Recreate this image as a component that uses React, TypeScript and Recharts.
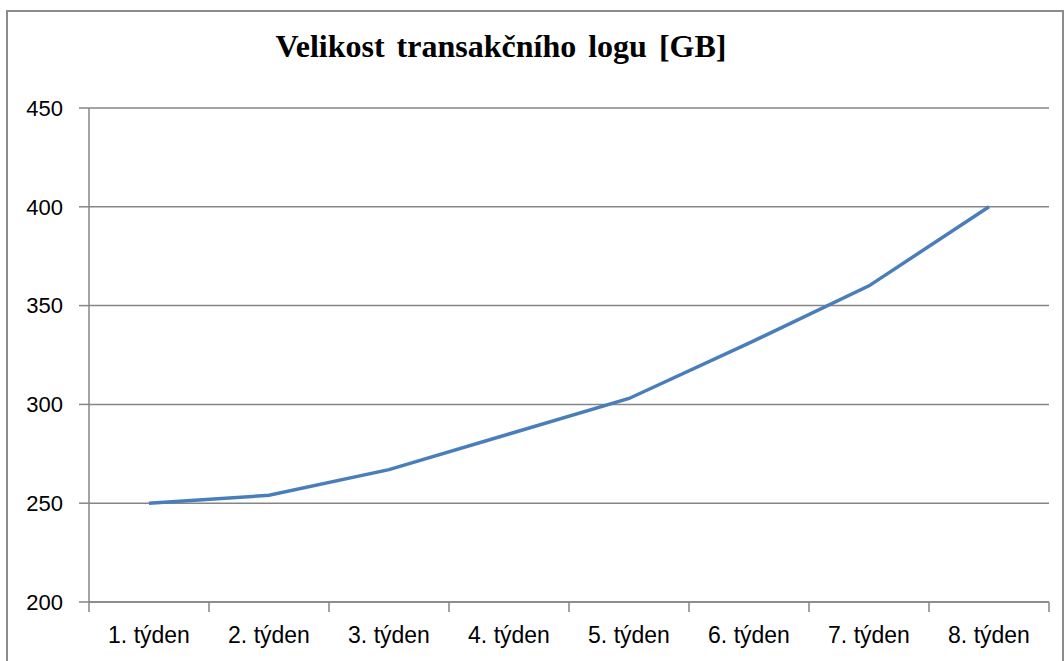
import { LineChart, Line, XAxis, YAxis, CartesianGrid } from "recharts";

const weeks = ["1. týden", "2. týden", "3. týden", "4. týden", "5. týden", "6. týden", "7. týden", "8. týden"];
const logSize = [250, 254, 267, 285, 303, 331, 360, 400];
const yTicks = [200, 250, 300, 350, 400, 450];

// ticks at band edges (integers) and band centres (halves, for labels)
const xTicks = Array.from({ length: weeks.length * 2 + 1 }, (_, i) => i / 2);

const data = weeks.map((w, i) => ({ week: w, pos: i + 0.5, size: logSize[i] }));

const axisGray = "#868686";
const tickFont = "'Liberation Sans', Arial, sans-serif";

function WeekTick(props: any) {
  const { x, y, payload } = props;
  const v = payload.value as number;
  if (Number.isInteger(v)) {
    return <line x1={x} y1={y} x2={x} y2={y + 10} stroke={axisGray} strokeWidth={1.5} />;
  }
  return (
    <text x={x} y={y + 41} textAnchor="middle" fontSize={23} fontFamily={tickFont} fill="#000">
      {weeks[Math.floor(v)]}
    </text>
  );
}

export default function App() {
  return (
    <div style={{ position: "absolute", left: 0, top: 0, width: 1064, height: 661, background: "#fff", overflow: "hidden" }}>
      <div
        style={{
          position: "absolute",
          left: 6,
          top: 10,
          width: 1054,
          height: 700,
          border: "2px solid #8c8c8c",
        }}
      />
      <div
        style={{
          position: "absolute",
          left: 0,
          width: 1002,
          top: 26,
          textAlign: "center",
          fontFamily: "'Liberation Serif', 'Times New Roman', serif",
          fontWeight: "bold",
          fontSize: 32,
          wordSpacing: 4,
          color: "#000",
          lineHeight: "40px",
        }}
      >
        Velikost transakčního logu [GB]
      </div>
      <div style={{ position: "absolute", left: 0, top: 0 }}>
        <LineChart width={1064} height={661} data={data} margin={{ top: 108, right: 15, bottom: 19, left: 29 }}>
          <CartesianGrid vertical={false} stroke={axisGray} strokeWidth={1.5} />
          <XAxis
            type="number"
            dataKey="pos"
            domain={[0, weeks.length]}
            ticks={xTicks}
            interval={0}
            tickLine={false}
            tickSize={0}
            tickMargin={0}
            height={40}
            axisLine={{ stroke: axisGray, strokeWidth: 1.5 }}
            tick={<WeekTick />}
          />
          <YAxis
            domain={[200, 450]}
            ticks={yTicks}
            width={60}
            tickSize={10}
            tickMargin={16}
            axisLine={{ stroke: axisGray, strokeWidth: 1.5 }}
            tickLine={{ stroke: axisGray, strokeWidth: 1.5 }}
            tick={{ fontSize: 22, fontFamily: tickFont, fill: "#000" }}
          />
          <Line
            type="linear"
            dataKey="size"
            stroke="#4a7ebb"
            strokeWidth={3.5}
            dot={false}
            isAnimationActive={false}
          />
        </LineChart>
      </div>
    </div>
  );
}
